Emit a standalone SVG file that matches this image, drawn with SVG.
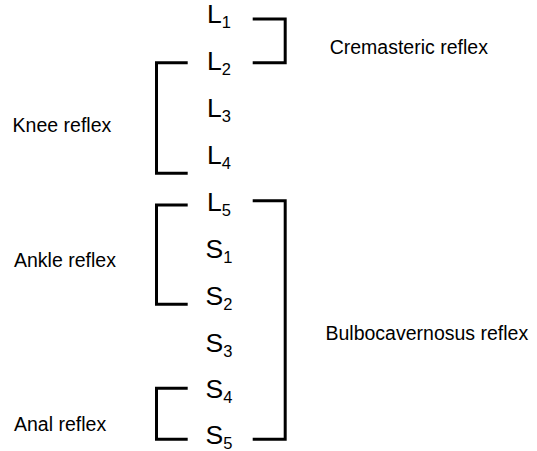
<svg xmlns="http://www.w3.org/2000/svg" width="537" height="451" viewBox="0 0 537 451">
<style>
.seg{font-family:"Liberation Sans",Arial,sans-serif;font-size:26.5px;fill:#000;text-anchor:middle}
.sub{font-size:16.5px}
.lbl{font-family:"Liberation Sans",Arial,sans-serif;font-size:19.5px;fill:#000}
.br{fill:none;stroke:#000;stroke-width:3;stroke-linecap:butt;stroke-linejoin:miter}
</style>
<rect width="537" height="451" fill="#fff"/>
<g id="segments">
<g id="L1"><text class="seg" x="219" y="23">L<tspan class="sub" dy="5">1</tspan></text></g>
<g id="L2"><text class="seg" x="219" y="70">L<tspan class="sub" dy="5">2</tspan></text></g>
<g id="L3"><text class="seg" x="219" y="117">L<tspan class="sub" dy="5">3</tspan></text></g>
<g id="L4"><text class="seg" x="219" y="164">L<tspan class="sub" dy="5">4</tspan></text></g>
<g id="L5"><text class="seg" x="219" y="211">L<tspan class="sub" dy="5">5</tspan></text></g>
<g id="S1"><text class="seg" x="219" y="258">S<tspan class="sub" dy="5">1</tspan></text></g>
<g id="S2"><text class="seg" x="219" y="305">S<tspan class="sub" dy="5">2</tspan></text></g>
<g id="S3"><text class="seg" x="219" y="352">S<tspan class="sub" dy="5">3</tspan></text></g>
<g id="S4"><text class="seg" x="219" y="398">S<tspan class="sub" dy="5">4</tspan></text></g>
<g id="S5"><text class="seg" x="219" y="444">S<tspan class="sub" dy="4.5">5</tspan></text></g>
</g>
<g id="labels">
<g id="cremasteric"><text class="lbl" x="329.7" y="54">Cremasteric reflex</text></g>
<g id="knee"><text class="lbl" x="12.6" y="132.3">Knee reflex</text></g>
<g id="ankle"><text class="lbl" x="14" y="267">Ankle reflex</text></g>
<g id="bulbo"><text class="lbl" x="325.5" y="340">Bulbocavernosus reflex</text></g>
<g id="anal"><text class="lbl" x="14" y="430.5">Anal reflex</text></g>
</g>
<g id="connectors">
<path class="br" d="M252.7,19 H285.2 V62.7 H252.7"/>
<path class="br" d="M187.7,62.7 H156.5 V173.3 H187.7"/>
<path class="br" d="M187.7,205 H156.5 V304.3 H187.7"/>
<path class="br" d="M252.7,200.7 H285.2 V439.3 H252.7"/>
<path class="br" d="M187.7,388.3 H156.5 V439.3 H187.7"/>
</g>
</svg>
